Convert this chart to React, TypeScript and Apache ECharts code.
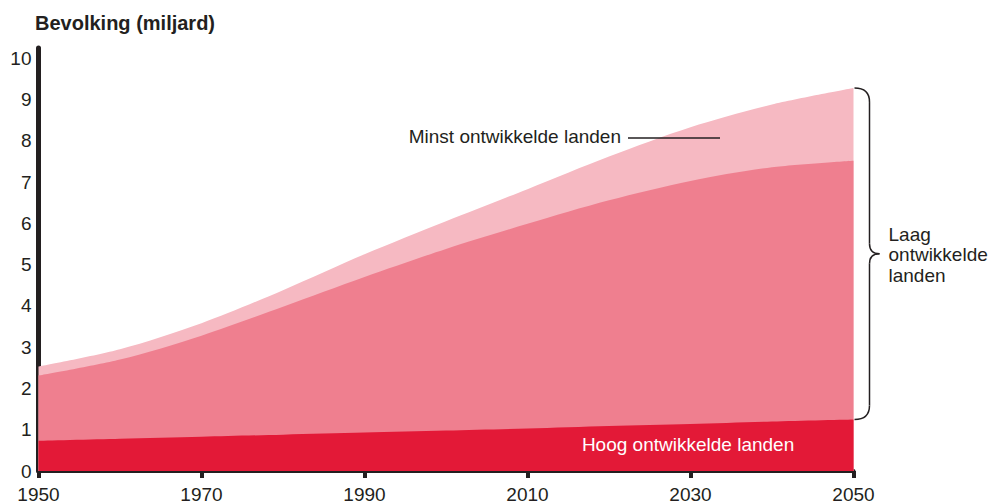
import React, { useEffect, useRef } from "react";
import * as echarts from "echarts";

const years = [1950, 1960, 1970, 1980, 1990, 2000, 2010, 2020, 2030, 2040, 2050];
const hoog = [0.73, 0.78, 0.83, 0.88, 0.93, 0.98, 1.03, 1.09, 1.14, 1.2, 1.25];
const laag = [1.58, 1.92, 2.45, 3.1, 3.77, 4.4, 4.96, 5.47, 5.89, 6.16, 6.27];
const minst = [0.22, 0.25, 0.3, 0.4, 0.55, 0.67, 0.84, 1.06, 1.3, 1.52, 1.76];

const BASE_YEAR = 1950;
const FONT = "'Liberation Sans', Arial, Helvetica, sans-serif";
const INK = "#231f20";

// cumulative (stacked) totals built from the series arrays
const cumHoog = hoog.slice();
const cumLaag = hoog.map((v, i) => v + laag[i]);
const cumMinst = cumLaag.map((v, i) => v + minst[i]);

const toPairs = (vals: number[]) => years.map((y, i) => [y - BASE_YEAR, vals[i]]);

export default function App() {
  const ref = useRef<HTMLDivElement>(null);
  useEffect(() => {
    if (!ref.current) return;
    const chart = echarts.init(ref.current, null, { renderer: "svg" });
    const seriesBase = {
      type: "line" as const,
      smooth: 0.3,
      symbol: "none",
      lineStyle: { width: 0 },
    };
    chart.setOption({
      animation: false,
      grid: { left: 38.5, right: 136.5, top: 48, bottom: 33, containLabel: false },
      xAxis: {
        type: "value",
        min: 0,
        max: 100,
        interval: 20,
        offset: 2,
        axisLine: { show: true, lineStyle: { color: INK, width: 4 } },
        axisTick: { show: true, length: 7, lineStyle: { color: INK, width: 4 } },
        axisLabel: {
          margin: 12,
          fontFamily: FONT,
          fontSize: 19,
          color: INK,
          formatter: (v: number) => String(BASE_YEAR + v),
        },
        splitLine: { show: false },
      },
      yAxis: {
        type: "value",
        min: 0,
        max: 10.25,
        interval: 1,
        axisLine: { show: true, lineStyle: { color: INK, width: 5 } },
        axisTick: { show: false },
        axisLabel: { margin: 7, fontFamily: FONT, fontSize: 19, color: INK, showMaxLabel: false },
        splitLine: { show: false },
      },
      series: [
        { ...seriesBase, name: "Minst ontwikkelde landen", data: toPairs(cumMinst), areaStyle: { color: "#f6b9c2", opacity: 1 } },
        { ...seriesBase, name: "Laag ontwikkelde landen", data: toPairs(cumLaag), areaStyle: { color: "#ef7f8f", opacity: 1 } },
        { ...seriesBase, name: "Hoog ontwikkelde landen", data: toPairs(cumHoog), areaStyle: { color: "#e31937", opacity: 1 } },
      ],
    });

    const last = years.length - 1;
    const xEnd = years[last] - BASE_YEAR;
    const pTop = chart.convertToPixel({ gridIndex: 0 }, [xEnd, cumMinst[last]]) as number[];
    const pBot = chart.convertToPixel({ gridIndex: 0 }, [xEnd, cumHoog[last]]) as number[];
    const x0 = pTop[0] + 1;
    const yT = pTop[1];
    const yB = pBot[1];
    const yM = (yT + yB) / 2;
    const x1 = x0 + 15;
    const xp = x0 + 25;
    const braceStyle = { stroke: INK, lineWidth: 1.5, fill: "none" };
    const hoogLabel = chart.convertToPixel({ gridIndex: 0 }, [79.7, 0.65]) as number[];

    chart.setOption({
      graphic: [
        {
          type: "text",
          x: 35,
          y: 23,
          silent: true,
          style: {
            text: "Bevolking (miljard)",
            fontFamily: FONT,
            fontSize: 20,
            fontWeight: "bold",
            fill: INK,
            textAlign: "left",
            textVerticalAlign: "middle",
          },
        },
        { type: "bezierCurve", shape: { x1: x0, y1: yT, cpx1: x1, cpy1: yT, x2: x1, y2: yT + 14 }, style: braceStyle, silent: true },
        { type: "line", shape: { x1: x1, y1: yT + 14, x2: x1, y2: yM - 10 }, style: braceStyle, silent: true },
        { type: "bezierCurve", shape: { x1: x1, y1: yM - 10, cpx1: x1, cpy1: yM, x2: xp, y2: yM }, style: braceStyle, silent: true },
        { type: "bezierCurve", shape: { x1: xp, y1: yM, cpx1: x1, cpy1: yM, x2: x1, y2: yM + 10 }, style: braceStyle, silent: true },
        { type: "line", shape: { x1: x1, y1: yM + 10, x2: x1, y2: yB - 14 }, style: braceStyle, silent: true },
        { type: "bezierCurve", shape: { x1: x1, y1: yB - 14, cpx1: x1, cpy1: yB, x2: x0, y2: yB }, style: braceStyle, silent: true },
        {
          type: "text",
          x: xp + 9,
          y: yM + 1,
          silent: true,
          style: {
            text: "Laag\nontwikkelde\nlanden",
            fontFamily: FONT,
            fontSize: 19,
            lineHeight: 20.5,
            fill: INK,
            textAlign: "left",
            textVerticalAlign: "middle",
          },
        },
        {
          type: "text",
          x: 621,
          y: 136,
          silent: true,
          style: {
            text: "Minst ontwikkelde landen",
            fontFamily: FONT,
            fontSize: 19,
            fill: INK,
            textAlign: "right",
            textVerticalAlign: "middle",
          },
        },
        { type: "line", shape: { x1: 628, y1: 138, x2: 720, y2: 138 }, style: { stroke: INK, lineWidth: 1.5 }, silent: true, z: 10 },
        {
          type: "text",
          x: hoogLabel[0],
          y: hoogLabel[1],
          silent: true,
          z: 10,
          style: {
            text: "Hoog ontwikkelde landen",
            fontFamily: FONT,
            fontSize: 19,
            fill: "#ffffff",
            textAlign: "center",
            textVerticalAlign: "middle",
          },
        },
      ],
    });

    return () => chart.dispose();
  }, []);
  return <div ref={ref} style={{ position: "absolute", left: 0, top: 0, width: 990, height: 504 }} />;
}
